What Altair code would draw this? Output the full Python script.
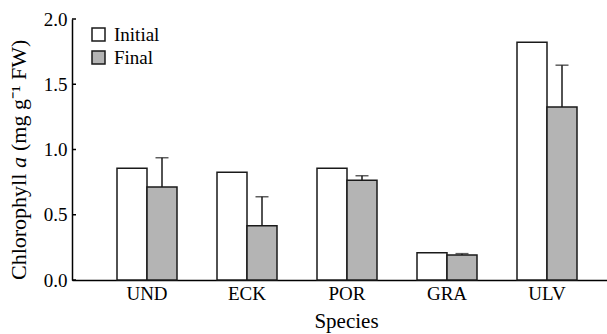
import altair as alt
import pandas as pd

species = ["UND", "ECK", "POR", "GRA", "ULV"]
initial = [0.856, 0.825, 0.856, 0.209, 1.821]
final = [0.713, 0.416, 0.764, 0.192, 1.326]
final_err = [0.224, 0.222, 0.035, 0.010, 0.320]
groups = ["Initial", "Final"]
y_ticks = [0.0, 0.5, 1.0, 1.5, 2.0]

rows = []
for s, v in zip(species, initial):
    rows.append({"species": s, "group": "Initial", "value": v, "err": 0.0})
for s, v, e in zip(species, final, final_err):
    rows.append({"species": s, "group": "Final", "value": v, "err": e})
df = pd.DataFrame(rows)
df["top"] = df["value"] + df["err"]
df_final = df[df["group"] == "Final"]

FONT = "Liberation Serif"
W, H = 535, 261

x_enc = alt.X(
    "species:N",
    sort=species,
    scale=alt.Scale(paddingInner=0.4, paddingOuter=0.375, align=0.6),
    axis=alt.Axis(
        title="Species", ticks=False, tickSize=0, labelAngle=0,
        labelFont=FONT, labelFontSize=19, labelColor="black", labelPadding=4,
        titleFont=FONT, titleFontSize=21, titleFontWeight="normal", titleColor="black",
        titleX=274, titleY=47, titleBaseline="alphabetic",
        domainColor="black", domainWidth=1.5,
    ),
)
xo_enc = alt.XOffset("group:N", sort=groups, scale=alt.Scale(paddingInner=0, paddingOuter=0))
y_scale = alt.Scale(domain=[0, 2])

bars = alt.Chart(df).mark_bar(stroke="#1a1a1a", strokeWidth=1.5).encode(
    x=x_enc,
    xOffset=xo_enc,
    y=alt.Y(
        "value:Q", scale=y_scale,
        axis=alt.Axis(
            title=None, values=y_ticks, format=".1f", ticks=False, tickSize=0, grid=False,
            labelFont=FONT, labelFontSize=19, labelColor="black", labelPadding=5,
            domainColor="black", domainWidth=1.5,
        ),
    ),
    fill=alt.Fill(
        "group:N",
        scale=alt.Scale(domain=groups, range=["white", "#b4b4b4"]),
        legend=alt.Legend(
            title=None, orient="none", legendX=17, legendY=6, padding=0,
            symbolType="square", symbolSize=169, symbolStrokeColor="#1a1a1a",
            symbolStrokeWidth=1.5, labelFont=FONT, labelFontSize=19,
            labelColor="black", labelOffset=6, rowPadding=3,
        ),
    ),
)

err_rule = alt.Chart(df_final).mark_rule(color="#1a1a1a", strokeWidth=1.5).encode(
    x=alt.X("species:N", sort=species),
    xOffset=alt.XOffset("group:N", sort=groups),
    y=alt.Y("value:Q", scale=y_scale),
    y2="top:Q",
)
err_cap = alt.Chart(df_final).mark_tick(
    color="#1a1a1a", orient="horizontal", size=13, thickness=1.5
).encode(
    x=alt.X("species:N", sort=species),
    xOffset=alt.XOffset("group:N", sort=groups),
    y=alt.Y("top:Q", scale=y_scale),
)

tick_df = pd.DataFrame({"t": y_ticks})
yticks = alt.Chart(tick_df).mark_rule(color="black", strokeWidth=1.5).encode(
    x=alt.value(0), x2=alt.value(4), y=alt.Y("t:Q", scale=y_scale)
)

title_df = pd.DataFrame({"a": [0]})
t1 = alt.Chart(title_df).mark_text(
    text="Chlorophyll", angle=270, align="left", baseline="alphabetic",
    font=FONT, fontSize=22, color="black",
).encode(x=alt.value(-46), y=alt.value(261))
t2 = alt.Chart(title_df).mark_text(
    text="a", angle=270, align="left", baseline="alphabetic",
    font=FONT, fontSize=22, fontStyle="italic", color="black",
).encode(x=alt.value(-46), y=alt.value(149))
t3 = alt.Chart(title_df).mark_text(
    text="(mg g\u207b\u00b9 FW)", angle=270, align="left", baseline="alphabetic",
    font=FONT, fontSize=22, color="black",
).encode(x=alt.value(-46), y=alt.value(132))

chart = alt.layer(bars, err_rule, err_cap, yticks, t1, t2, t3).properties(
    width=W, height=H,
    autosize=alt.AutoSizeParams(type="none"),
    padding={"left": 72, "top": 19, "right": 0, "bottom": 54},
    background="white",
).configure_view(stroke=None)

chart.save("out.html", embed_options={"renderer": "svg", "actions": False})
